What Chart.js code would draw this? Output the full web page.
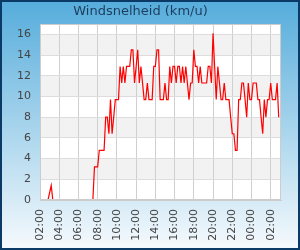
<!DOCTYPE html>
<html><head><meta charset="utf-8">
<script src="https://cdn.jsdelivr.net/npm/chart.js@4.4.1/dist/chart.umd.min.js"></script>
<style>html,body{margin:0;padding:0;background:#fff}canvas{display:block}</style>
</head><body>
<canvas id="c" width="300" height="250"></canvas>
<script>
const chartTitle = 'Windsnelheid (km/u)';
const startHour = 2;          // first sample 02:00
const stepMinutes = 10;       // one sample every 10 minutes
const values = [
  0,0,0,0,0,0,0.7,1.4,0,0,
  0,0,0,0,0,0,0,0,0,0,
  0,0,0,0,0,0,0,0,0,0,
  0,0,0,0,3.2,3.2,3.2,4.8,4.8,4.8,
  4.8,8.0,8.0,6.4,9.7,6.4,8.0,9.7,9.7,9.7,
  12.9,11.3,12.9,11.3,12.9,12.9,12.9,14.5,14.5,11.3,
  12.9,14.5,11.3,12.9,11.3,9.7,9.7,11.3,9.7,9.7,
  9.7,12.9,12.9,14.5,14.5,9.7,9.7,9.7,11.3,9.7,
  9.7,12.9,11.3,12.9,12.9,11.3,12.9,12.9,11.3,12.9,
  11.3,12.9,11.3,9.7,11.3,11.3,14.5,12.9,12.9,11.3,
  12.9,11.3,11.3,11.3,11.3,12.9,12.9,11.3,16.1,12.9,
  9.7,12.9,11.3,9.7,9.7,11.3,9.7,9.7,9.7,8.0,
  6.4,6.4,4.8,4.8,9.7,9.7,11.3,11.3,9.7,8.0,
  11.3,9.7,9.7,11.3,11.3,11.3,9.7,9.7,8.0,6.4,
  9.7,8.0,9.7,9.7,11.3,9.7,9.7,9.7,11.3,8.0
];
const yTicks = [0,2,4,6,8,10,12,14,16];
const xTickHours = [2,4,6,8,10,12,14,16,18,20,22,24,26];
const xMin = 2, xMax = 27.07, yMax = 17;

const points = values.map((v, i) => ({x: startHour + i * stepMinutes / 60, y: v}));
const fmt = h => String(Math.round(h) % 24).padStart(2, '0') + ':00';

const deco = {
  id: 'deco',
  beforeDraw(chart) {
    const {ctx, chartArea: a, scales: {y}} = chart;
    ctx.save();
    const g = ctx.createLinearGradient(0, 0, 0, chart.height);
    g.addColorStop(0, '#55acdb');
    g.addColorStop(1, '#f6fafd');
    ctx.fillStyle = g;
    ctx.fillRect(0, 0, chart.width, chart.height);
    ctx.fillStyle = '#ffffff';
    ctx.fillRect(a.left, a.top, a.right - a.left, a.bottom - a.top);
    ctx.fillStyle = '#f2f2f2';
    for (let k = 1; k < yTicks.length - 1; k += 2) {
      const t = y.getPixelForValue(yTicks[k + 1]);
      const b = y.getPixelForValue(yTicks[k]);
      ctx.fillRect(a.left, t, a.right - a.left, b - t);
    }
    ctx.restore();
  },
  afterDatasetsDraw(chart) {
    const {ctx, chartArea: a} = chart;
    ctx.save();
    ctx.strokeStyle = '#cccccc';
    ctx.lineWidth = 1;
    ctx.strokeRect(a.left + 0.5, a.top + 0.5, a.right - a.left - 1, a.bottom - a.top);
    ctx.beginPath();
    ctx.moveTo(a.left, a.bottom - 0.5);
    ctx.lineTo(a.right, a.bottom - 0.5);
    ctx.stroke();
    ctx.restore();
  },
  afterDraw(chart) {
    const {ctx} = chart;
    ctx.save();
    ctx.strokeStyle = '#0c3a66';
    ctx.lineWidth = 2;
    ctx.strokeRect(1, 1, chart.width - 2, chart.height - 2);
    ctx.restore();
  }
};

new Chart(document.getElementById('c'), {
  type: 'line',
  data: {
    datasets: [{
      data: points,
      borderColor: '#ff0000',
      borderWidth: 1.2,
      pointRadius: 0,
      tension: 0,
      fill: false,
      clip: 0
    }]
  },
  options: {
    responsive: false,
    animation: false,
    devicePixelRatio: 1,
    layout: {padding: {top: 0, left: 0, right: 19, bottom: 0}},
    plugins: {
      legend: {display: false},
      tooltip: {enabled: false},
      title: {
        display: true,
        text: chartTitle,
        color: '#1c3d5e',
        font: {family: 'DejaVu Sans', size: 13, weight: 'normal', lineHeight: 1},
        padding: {top: 5, bottom: 6}
      }
    },
    scales: {
      x: {
        type: 'linear',
        min: xMin, max: xMax,
        afterBuildTicks: s => { s.ticks = xTickHours.map(v => ({value: v})); },
        afterFit: s => { s.height = 50; },
        grid: {color: '#cfcfcf', lineWidth: 1, drawTicks: false},
        border: {display: true, color: '#cccccc'},
        ticks: {
          autoSkip: false, maxRotation: 90, minRotation: 90, padding: 9,
          color: '#444444', font: {family: 'DejaVu Sans', size: 11},
          callback: v => fmt(v)
        }
      },
      y: {
        min: 0, max: yMax,
        afterBuildTicks: s => { s.ticks = yTicks.map(v => ({value: v})); },
        afterFit: s => { s.width = 40; },
        grid: {color: '#dddddd', lineWidth: 1, drawTicks: false},
        border: {display: true, color: '#cccccc'},
        ticks: {
          padding: 9, color: '#444444', font: {family: 'DejaVu Sans', size: 11}
        }
      }
    }
  },
  plugins: [deco]
});
</script>
</body></html>
